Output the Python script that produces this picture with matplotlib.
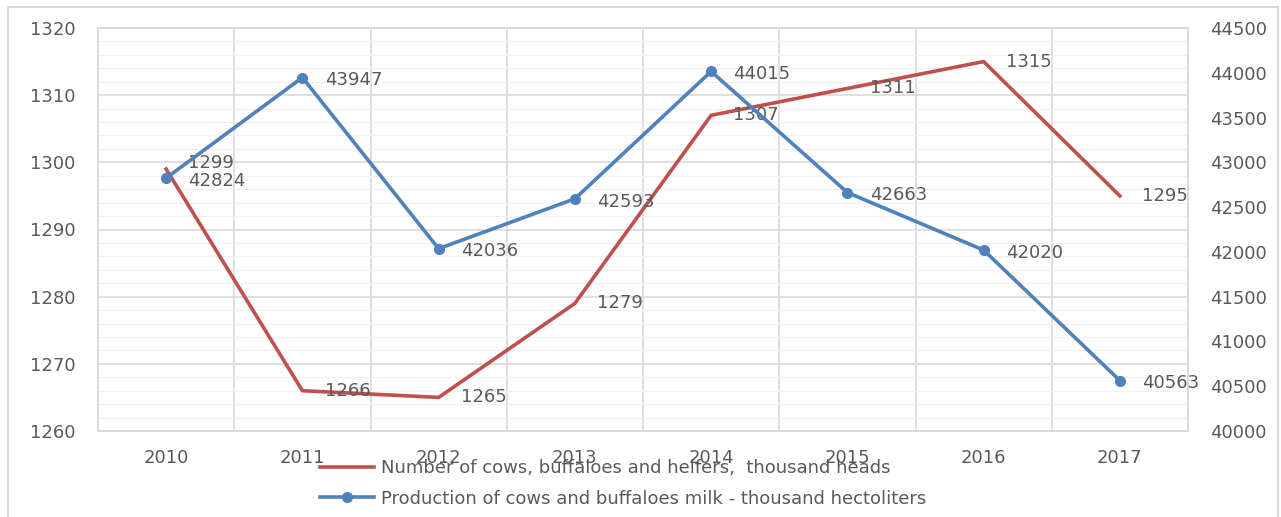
import matplotlib
matplotlib.use("Agg")
import matplotlib.pyplot as plt
from matplotlib.patches import Rectangle
from matplotlib.ticker import MultipleLocator

years = ["2010", "2011", "2012", "2013", "2014", "2015", "2016", "2017"]
cows = [1299, 1266, 1265, 1279, 1307, 1311, 1315, 1295]
milk = [42824, 43947, 42036, 42593, 44015, 42663, 42020, 40563]
cows_label = "Number of cows, buffaloes and heifers,  thousand heads"
milk_label = "Production of cows and buffaloes milk - thousand hectoliters"

RED = "#C0504D"
BLUE = "#4F81BD"
TXT = "#595959"
GRID = "#D9D9D9"
FS = 13

plt.rcParams['font.family'] = ['DejaVu Sans']

fig = plt.figure(figsize=(12.81, 5.17), dpi=100)
fig.patches.append(Rectangle((8/1281, -0.02), (1278-8)/1281, 1 - 7/517 + 0.02,
                             transform=fig.transFigure, fill=False,
                             edgecolor="#D9D9D9", linewidth=1.5))

ax = fig.add_axes([98/1281, 1 - 431/517, (1188-98)/1281, (431-28)/517])
ax2 = ax.twinx()

x = list(range(len(years)))

ax.set_xlim(-0.5, len(years) - 0.5)
ax.set_ylim(1260, 1320)
ax.yaxis.set_major_locator(MultipleLocator(10))
ax.yaxis.set_minor_locator(MultipleLocator(2))
ax2.set_ylim(40000, 44500)
ax2.yaxis.set_major_locator(MultipleLocator(500))

ax.set_xticks(x)
ax.set_xticklabels(years)
ax.set_xticks([i + 0.5 for i in range(len(years) - 1)], minor=True)

ax.grid(True, which='major', axis='y', color=GRID, linewidth=1.2)
ax.grid(True, which='minor', axis='y', color="#F0F0F0", linewidth=0.8)
ax.grid(True, which='minor', axis='x', color=GRID, linewidth=1.2)
ax.set_axisbelow(True)

for a in (ax, ax2):
    for s in a.spines.values():
        s.set_color(GRID)
        s.set_linewidth(1.2)
    a.tick_params(which='both', length=0, labelsize=FS, labelcolor=TXT)
ax.tick_params(axis='x', pad=13)
ax.tick_params(axis='y', pad=16)
ax2.tick_params(axis='y', pad=16)

l1, = ax.plot(x, cows, color=RED, linewidth=2.6, label=cows_label, zorder=3)
l2, = ax.plot([], [], color=BLUE, linewidth=2.6, marker='o', markersize=7,
              label=milk_label)
ax2.plot(x, milk, color=BLUE, linewidth=2.6, marker='o', markersize=7, zorder=3)

for xi, v in zip(x, cows):
    dy = 0 if xi != 0 else 4
    ax.annotate(str(v), (xi, v), xytext=(16, dy), textcoords='offset points',
                ha='left', va='center', fontsize=FS, color=TXT)
for xi, v in zip(x, milk):
    ax2.annotate(str(v), (xi, v), xytext=(16, -2), textcoords='offset points',
                 ha='left', va='center', fontsize=FS, color=TXT)

fig.legend(handles=[l1, l2], loc='upper left', bbox_to_anchor=(320/1281, 1 - 459/517),
           frameon=False, fontsize=FS, labelcolor=TXT, handlelength=3.0,
           handletextpad=0.4, labelspacing=0.7, borderpad=0, borderaxespad=0)

fig.savefig("out.png", dpi=100)
